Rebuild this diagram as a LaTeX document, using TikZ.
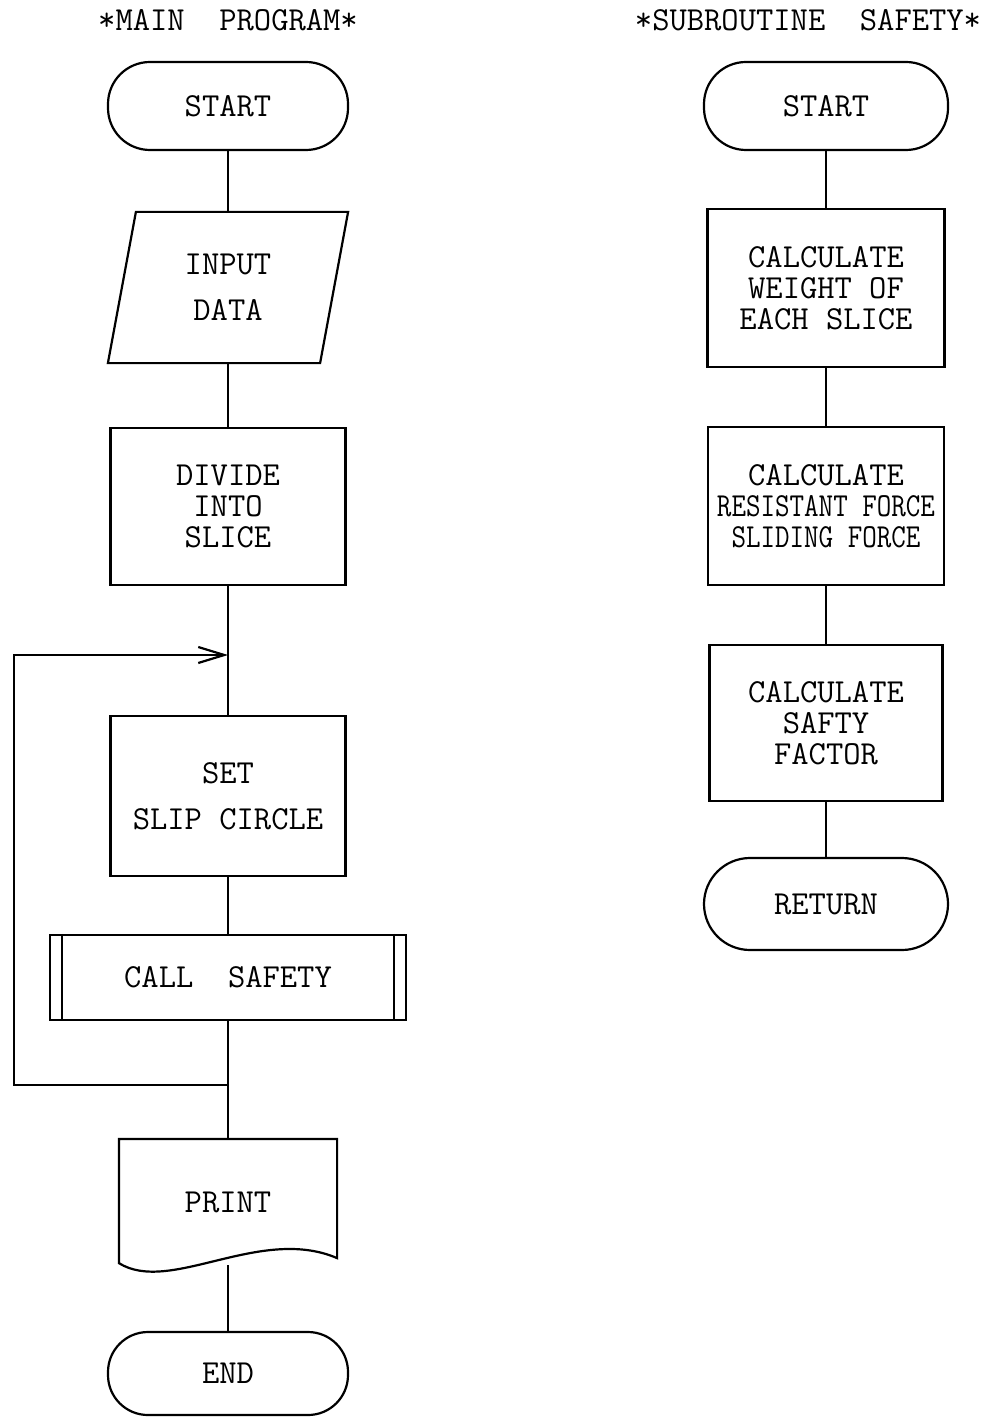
\documentclass[tikz,border=0pt]{standalone}
\usepackage{fontspec}
\usepackage{graphicx}
\usetikzlibrary{arrows.meta,positioning}

\newcommand{\squeezed}[1]{\scalebox{0.84}[1]{#1}}

\begin{document}
\begin{tikzpicture}[x=0.5pt, y=-0.5pt, >={Straight Barb[length=13pt, width=8pt]},
  line width=1.1pt,
  every node/.style={font=\ttfamily\fontsize{16.8}{15.5}\selectfont, align=center, inner sep=0pt},
  term/.style={draw, rectangle, rounded corners=21pt, minimum width=120pt, minimum height=44pt},
  procbox/.style={draw, rectangle, minimum width=117.5pt, minimum height=79pt},
  flat/.style={rectangle, draw=none}]
  \useasboundingbox (0,0) rectangle (993,1417);

  % main program
  \node (maintitle) at (228,20) {*MAIN\ \ PROGRAM*};
  \node[term] (start) at (228,106) {START};
  \node[flat, minimum width=105pt, minimum height=74.5pt] (input) at (228,287.5) {INPUT\\[7.5pt]DATA};
  \node[procbox, minimum height=78.5pt] (divide) at (228,506.5) {DIVIDE\\INTO\\SLICE};
  \node[procbox, minimum height=80pt] (slip) at (228,796) {SET\\[7.5pt]SLIP CIRCLE};
  \node[draw, rectangle, minimum width=178pt, minimum height=42.5pt] (call) at (228,977.5) {CALL\ \ SAFETY};
  \node[flat, minimum width=108pt, minimum height=62pt] (print) at (228,1202) {PRINT};
  \node[term, minimum height=41.5pt, rounded corners=20pt] (end) at (228,1373.5) {END};
  \coordinate (merge) at (228,655);
  \coordinate (join) at (228,1085);

  % outlines of the special shapes
  \draw ([xshift=7pt]input.north west) -- ([xshift=7pt]input.north east)
    -- ([xshift=-7pt]input.south east) -- ([xshift=-7pt]input.south west) -- cycle;
  \draw ([xshift=6.5pt]call.north west) -- ([xshift=6.5pt]call.south west);
  \draw ([xshift=-6.5pt]call.north east) -- ([xshift=-6.5pt]call.south east);
  \draw ([yshift=1pt]print.south west) -- (print.north west) -- (print.north east)
    -- ([yshift=3.5pt]print.south east) .. controls (260,1225) and (170,1295) .. cycle;

  \draw (start) -- (input);
  \draw (input) -- (divide);
  \draw (divide) -- (slip);
  \draw (slip) -- (call);
  \draw (call) -- (print);
  \draw (print) -- (end);
  \draw[->] (join) -- ++(-214,0) |- (merge);

  % subroutine safety
  \node (subtitle) at (808,20) {*SUBROUTINE\ \ SAFETY*};
  \node[term, minimum width=122pt] (substart) at (826,106) {START};
  \node[procbox, minimum width=118.5pt] (weight) at (826,288) {CALCULATE\\WEIGHT OF\\EACH SLICE};
  \node[procbox, minimum width=118pt] (force) at (826,506) {CALCULATE\\\squeezed{RESISTANT FORCE}\\\squeezed{SLIDING FORCE}};
  \node[procbox, minimum width=116.5pt, minimum height=78pt] (factor) at (826,723) {CALCULATE\\SAFTY\\FACTOR};
  \node[term, minimum width=122pt, minimum height=46pt, rounded corners=23pt] (return) at (826,904) {RETURN};

  \draw (substart) -- (weight);
  \draw (weight) -- (force);
  \draw (force) -- (factor);
  \draw (factor) -- (return);
\end{tikzpicture}
\end{document}
